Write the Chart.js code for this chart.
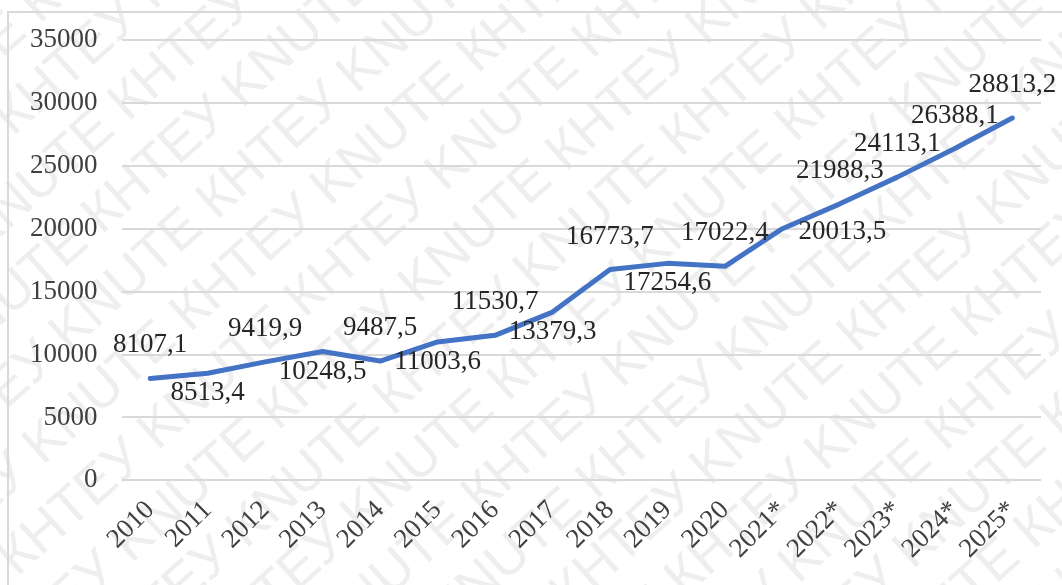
<!DOCTYPE html>
<html>
<head>
<meta charset="utf-8">
<script src="https://cdn.jsdelivr.net/npm/chart.js@4"></script>
<style>
  html, body { margin: 0; padding: 0; background: #fff; }
  #wrap { position: relative; width: 1062px; height: 585px; }
</style>
</head>
<body>
<div id="wrap"><canvas id="chart" width="1062" height="585"></canvas></div>
<script>
const years = ['2010', '2011', '2012', '2013', '2014', '2015', '2016', '2017',
               '2018', '2019', '2020', '2021*', '2022*', '2023*', '2024*', '2025*'];
const values = [8107.1, 8513.4, 9419.9, 10248.5, 9487.5, 11003.6, 11530.7, 13379.3,
                16773.7, 17254.6, 17022.4, 20013.5, 21988.3, 24113.1, 26388.1, 28813.2];
const yTicks = [0, 5000, 10000, 15000, 20000, 25000, 30000, 35000];

// where each value label sits relative to its point
const labelSide = ['up', 'down', 'up', 'down', 'up', 'down', 'up', 'down',
                   'up', 'down', 'up', 'right', 'up', 'up', 'up', 'up'];

const fmt = v => v.toFixed(1).replace('.', ',');
const SERIF = '"Liberation Serif", "Times New Roman", serif';

const backdrop = {
    id: 'backdrop',
    beforeDraw(chart) {
        const c = chart.ctx;
        c.save();
        c.fillStyle = '#fff';
        c.fillRect(0, 0, chart.width, chart.height);
        // watermark
        c.font = '54px "Liberation Sans", Arial, sans-serif';
        c.fillStyle = '#eeeeee';
        c.textBaseline = 'alphabetic';
        c.translate(chart.width / 2, chart.height / 2);
        c.rotate(-42 * Math.PI / 180);
        const row = 'КНТЕУ KNUTE КНТЕУ KNUTE КНТЕУ KNUTE КНТЕУ KNUTE КНТЕУ KNUTE';
        const w = c.measureText(row).width;
        for (let i = -9; i <= 9; i++) {
            c.fillText(row, -w / 2 + (i % 2) * 95, i * 66);
        }
        c.restore();
        // outer frame
        c.save();
        c.strokeStyle = '#d9d9d9';
        c.lineWidth = 2;
        c.strokeRect(8, 12, 1100, 620);
        c.restore();
    }
};

const valueLabels = {
    id: 'valueLabels',
    afterDatasetsDraw(chart) {
        const c = chart.ctx;
        const pts = chart.getDatasetMeta(0).data;
        c.save();
        c.font = '27px ' + SERIF;
        c.fillStyle = '#262626';
        c.textAlign = 'center';
        c.textBaseline = 'middle';
        pts.forEach((p, i) => {
            const t = fmt(values[i]);
            let x = p.x, y = p.y;
            if (labelSide[i] === 'up') y -= 33;
            else if (labelSide[i] === 'down') y += 20;
            else { x += 60; y += 3; }
            c.fillText(t, x, y);
        });
        c.restore();
    }
};

new Chart(document.getElementById('chart'), {
    type: 'line',
    data: {
        labels: years,
        datasets: [{
            data: values,
            borderColor: '#4472C4',
            borderWidth: 5,
            pointRadius: 0,
            tension: 0,
            borderCapStyle: 'round',
            borderJoinStyle: 'round'
        }]
    },
    options: {
        responsive: false,
        animation: false,
        layout: { padding: { left: 6, right: 21, top: 32, bottom: 14 } },
        plugins: { legend: { display: false }, tooltip: { enabled: false } },
        scales: {
            x: {
                offset: true,
                grid: { display: false },
                border: { display: false },
                ticks: {
                    maxRotation: 45, minRotation: 45, padding: 6,
                    color: '#404040',
                    font: { family: SERIF, size: 27 }
                }
            },
            y: {
                min: 0, max: 35000,
                afterBuildTicks: axis => { axis.ticks = yTicks.map(v => ({ value: v })); },
                grid: { color: '#d9d9d9', lineWidth: 2, drawTicks: false },
                border: { display: false },
                ticks: {
                    padding: 24,
                    color: '#404040',
                    callback: v => String(v),
                    font: { family: SERIF, size: 27 }
                }
            }
        }
    },
    plugins: [backdrop, valueLabels]
});
</script>
</body>
</html>
